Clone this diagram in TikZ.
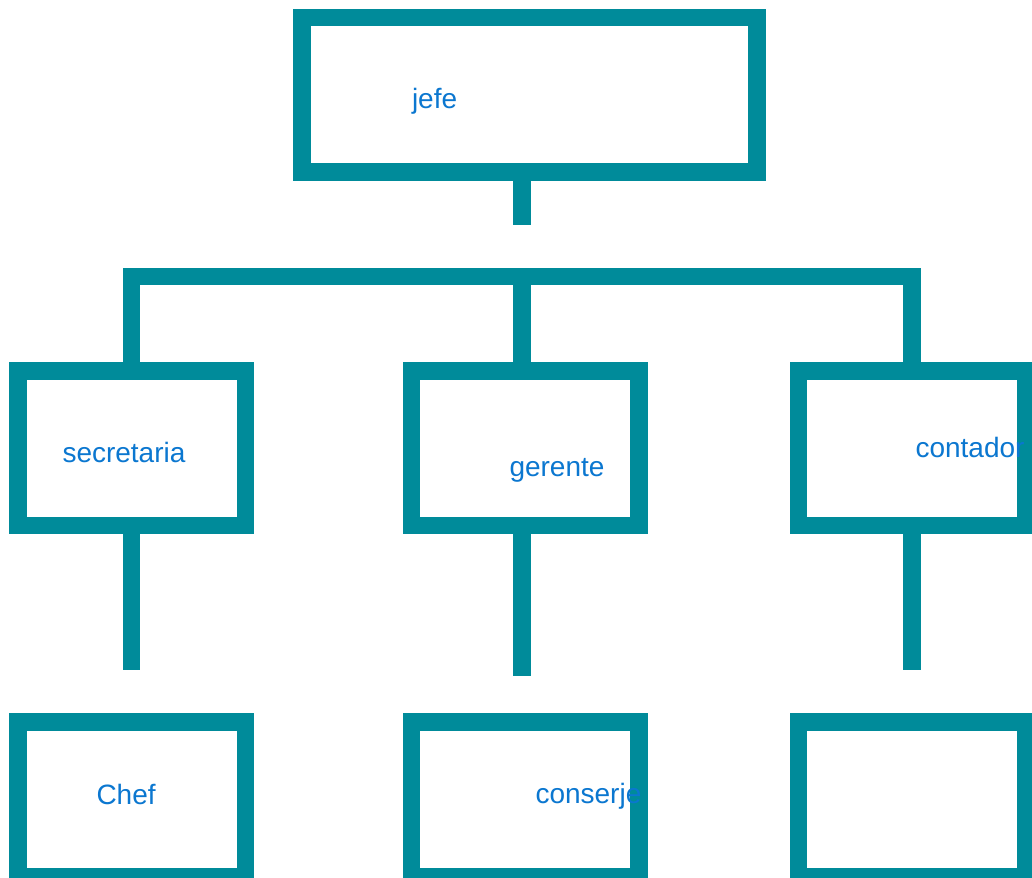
\documentclass[tikz,border=0pt]{standalone}
\usepackage{fontspec}
\setmainfont{Liberation Sans}
\definecolor{teal1}{RGB}{0,139,154}
\definecolor{txtblue}{RGB}{11,119,208}
\begin{document}
\begin{tikzpicture}[x=1pt,y=-1pt,
  box/.style={draw=teal1,line width=17.5pt,rectangle,inner sep=0pt,fill=white},
  link/.style={draw=teal1,line width=17.5pt,line cap=butt,line join=miter},
  lbl/.style={anchor=base west,inner sep=0pt,outer sep=0pt,text=txtblue,font=\fontsize{28}{33}\selectfont}]
\useasboundingbox (0,0) rectangle (1032,877);
\clip (0,0) rectangle (1032,877);
% boxes
\node[box,minimum width=455pt,minimum height=154.5pt] (top) at (529.5,95) {};
\node[box,minimum width=227.3pt,minimum height=154.3pt] (m1) at (131.7,448.3) {};
\node[box,minimum width=227.5pt,minimum height=154.3pt] (m2) at (525.2,448.3) {};
\node[box,minimum width=227.3pt,minimum height=154.3pt] (m3) at (912,448.3) {};
\node[box,minimum width=227.3pt,minimum height=154.5pt] (b1) at (131.7,799.3) {};
\node[box,minimum width=227.5pt,minimum height=154.5pt] (b2) at (525.2,799.3) {};
\node[box,minimum width=227.3pt,minimum height=154.5pt] (b3) at (912,799.3) {};
% coordinates
\coordinate (ts) at (522,225);
\coordinate (bl) at (131.5,276.7);
\coordinate (bm) at (522,276.7);
\coordinate (br) at (912,276.7);
\coordinate (s1) at (131.5,670);
\coordinate (s2) at (522,676);
\coordinate (s3) at (912,670);
% connectors
\draw[link] (top.south -| ts) -- (ts);
\draw[link] (m1.north -| bl) -- (bl) -- (br) -- (m3.north -| br);
\draw[link] (m2.north -| bm) -- (bm);
\draw[link] (m1.south -| s1) -- (s1);
\draw[link] (m2.south -| s2) -- (s2);
\draw[link] (m3.south -| s3) -- (s3);
% labels
\node[lbl] (tjefe) at (412,109) {jefe};
\node[lbl] (tsec) at (62.5,462) {secretaria};
\node[lbl] (tger) at (509.5,476) {gerente};
\node[lbl] (tcon) at (915.5,457.3) {contador};
\node[lbl] (tchef) at (96.5,804.3) {Chef};
\node[lbl] (tcons) at (535.5,803.3) {conserje};
\end{tikzpicture}
\end{document}
